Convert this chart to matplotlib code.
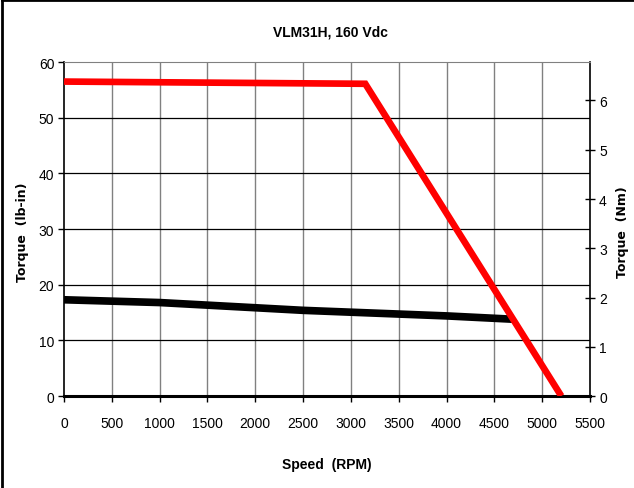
import matplotlib.pyplot as plt
from matplotlib.lines import Line2D

# peak torque curve (lb-in)
peak_rpm = [0, 3150, 5200]
peak_torque = [56.5, 56.1, 0]

# continuous torque curve (lb-in)
cont_rpm = [0, 1000, 2500, 4000, 4700]
cont_torque = [17.3, 16.8, 15.4, 14.4, 13.8]

x_ticks = list(range(0, 5501, 500))
y_ticks = list(range(0, 61, 10))
nm_ticks = [0, 1, 2, 3, 4, 5, 6]
LBIN_PER_NM = 8.8507

narrow_fp = dict(family=['Liberation Sans', 'DejaVu Sans'], stretch='condensed')

fig = plt.figure(figsize=(6.34, 4.89), dpi=100)
ax = fig.add_axes([0.101, 0.188, 0.8296, 0.683])

for xv in x_ticks[1:-1]:
    ax.axvline(xv, color='#808080', lw=1.0, zorder=1)
for yv in y_ticks[1:-1]:
    ax.axhline(yv, color='black', lw=0.9, zorder=1)

ax.plot(cont_rpm, cont_torque, color='black', lw=5.5, solid_capstyle='butt', zorder=3)
ax.plot(peak_rpm, peak_torque, color='#ff0000', lw=4.8, solid_joinstyle='miter',
        solid_capstyle='butt', zorder=4)

ax.set_xlim(0, 5500)
ax.set_ylim(0, 60)
ax.set_xticks(x_ticks)
ax.set_yticks(y_ticks)
ax.tick_params(axis='both', direction='out', length=4, width=1, labelsize=10, pad=3)
ax.tick_params(axis='x', pad=10)
for lab in ax.get_xticklabels() + ax.get_yticklabels():
    lab.set_family(narrow_fp['family'])
    lab.set_stretch('condensed')

ax.spines['top'].set_color('#808080')
ax.spines['bottom'].set_linewidth(2.2)
ax.spines['left'].set_linewidth(1.2)
ax.spines['right'].set_linewidth(1.2)

ax2 = ax.twinx()
ax2.set_ylim(0, 60 / LBIN_PER_NM)
ax2.set_yticks(nm_ticks)
ax2.tick_params(axis='y', direction='inout', length=7, width=1, labelsize=10, pad=3)
for lab in ax2.get_yticklabels():
    lab.set_family(narrow_fp['family'])
    lab.set_stretch('condensed')
for s in ax2.spines.values():
    s.set_visible(False)

fig.text(0.521, 0.933, 'VLM31H, 160 Vdc', fontsize=10, fontweight='bold',
         ha='center', va='center', **narrow_fp)
fig.text(0.515, 0.049, 'Speed  (RPM)', fontsize=10, fontweight='bold',
         ha='center', va='center', **narrow_fp)
fig.text(0.036, 0.525, 'Torque  (lb-in)', fontsize=9, fontweight='bold',
         rotation=90, ha='center', va='center', family='DejaVu Sans')
fig.text(0.982, 0.525, 'Torque  (Nm)', fontsize=9, fontweight='bold',
         rotation=90, ha='center', va='center', family='DejaVu Sans')

# outer chart border (Excel style)
fig.add_artist(Line2D([0.003, 0.003], [0, 0.997], transform=fig.transFigure, color='black', lw=2))
fig.add_artist(Line2D([0.003, 1], [0.997, 0.997], transform=fig.transFigure, color='black', lw=2))

fig.savefig('out.png', dpi=100)
